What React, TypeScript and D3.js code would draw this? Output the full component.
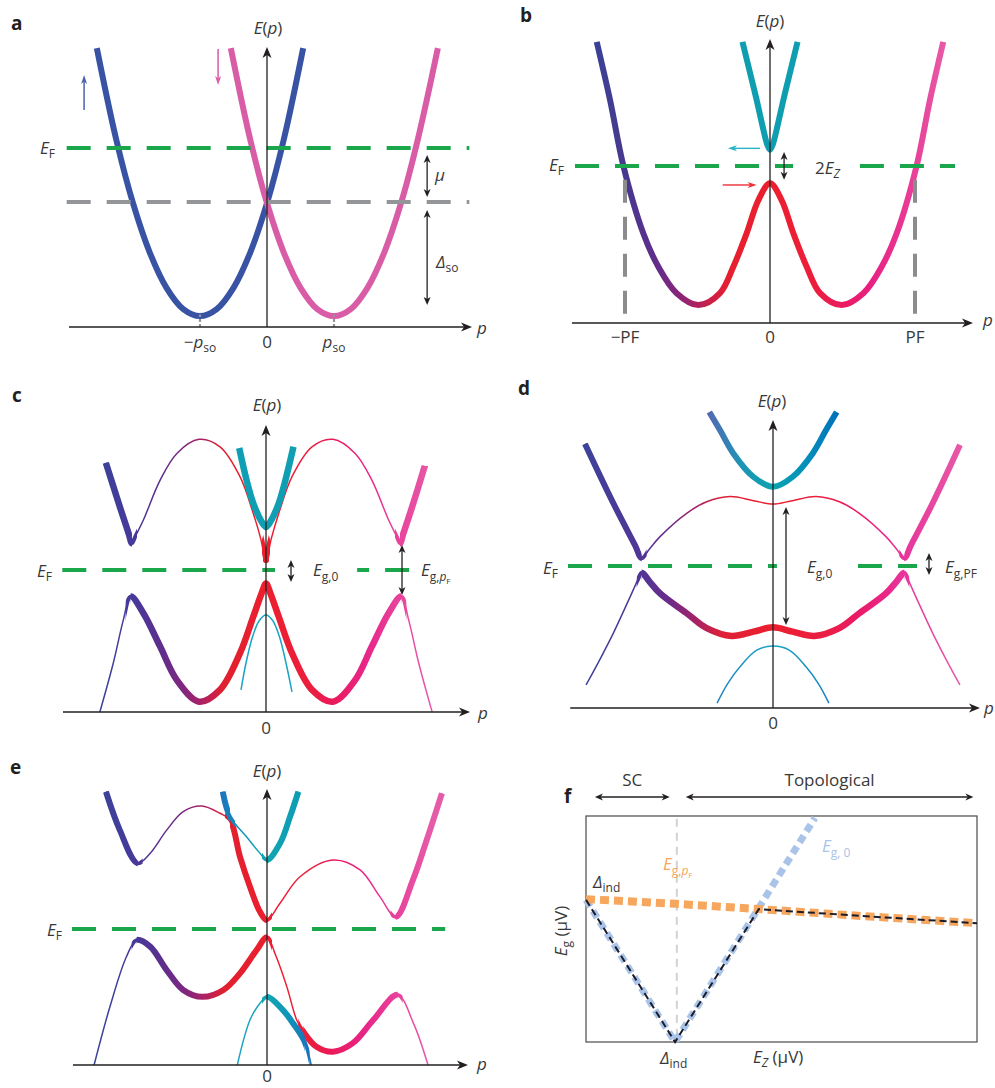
import React from "react";
import * as d3 from "d3";

type Pt = [number, number];

// ============ DATA ============
// Panels a–e: p in units of the characteristic momentum of each panel, E on a 0–10 scale of the axis height.

// ---- a: spin–orbit split bands
const aSpinUp: Pt[] = [[-2.54, 9.96], [-2.25, 6.69], [-2, 4.42], [-1.75, 2.66], [-1.5, 1.4], [-1.25, 0.64], [-1, 0.39], [-0.75, 0.64], [-0.5, 1.4], [-0.25, 2.66], [0, 4.42], [0.25, 6.69], [0.54, 9.96]];
const aSpinDown: Pt[] = [[-0.54, 9.96], [-0.25, 6.69], [0, 4.42], [0.25, 2.66], [0.5, 1.4], [0.75, 0.64], [1, 0.39], [1.25, 0.64], [1.5, 1.4], [1.75, 2.66], [2, 4.42], [2.25, 6.69], [2.55, 9.96]];
const aLevels = [6.39, 4.46]; // E_F, band crossing
const aTicks = [-1, 0, 1];
const aMu: Pt = [6.14, 4.64];
const aDeltaSo: Pt = [4.18, 0.79];

// ---- b: Zeeman field opens gap at p = 0
const bOuter: Pt[] = [[-1.195, 9.9], [-1.103, 7.85], [-1.011, 5.53], [-0.874, 3.16], [-0.77, 1.98], [-0.644, 1.05], [-0.494, 0.63], [-0.345, 1.05], [-0.253, 1.98], [-0.161, 3.16], [-0.08, 4.33], [0, 4.92], [0.08, 4.33], [0.161, 3.16], [0.253, 1.98], [0.345, 1.05], [0.494, 0.63], [0.644, 1.05], [0.77, 1.98], [0.874, 3.16], [1.011, 5.53], [1.103, 7.85], [1.195, 9.9]];
const bInner: Pt[] = [[-0.19, 9.9], [-0.13, 8.65], [-0.092, 7.85], [-0.05, 6.9], [-0.02, 6.3], [0, 6.1], [0.02, 6.3], [0.05, 6.9], [0.092, 7.85], [0.13, 8.65], [0.19, 9.9]];
const bEF = 5.53;
const bEFSegments: Pt[] = [[-1.345, 0.159], [0.62, 1.276]];
const bPF = [-1, 1];
const bTickLabels = ["−PF", "0", "PF"];
const b2Ez: Pt = [6.02, 5.04];

// ---- c: superconducting pairing, weak field
const cUpper: Pt[] = [[-2.39, 8.68], [-2.19, 7.21], [-2.05, 6.22], [-2.0, 5.88], [-1.95, 6.12], [-1.83, 6.69], [-1.58, 8.08], [-1.33, 9.01], [-1.0, 9.5], [-0.687, 9.24], [-0.388, 8.2], [-0.19, 6.92], [-0.08, 6.05], [-0.04, 5.62], [0, 5.3], [0.04, 5.62], [0.08, 6.05], [0.19, 6.92], [0.388, 8.2], [0.687, 9.24], [1.0, 9.5], [1.33, 9.01], [1.58, 8.08], [1.83, 6.69], [1.95, 6.12], [2.0, 5.88], [2.05, 6.22], [2.19, 7.21], [2.37, 8.57]];
const cTealUp: Pt[] = [[-0.4, 9.2], [-0.29, 8.08], [-0.19, 7.27], [-0.065, 6.63], [0, 6.45], [0.065, 6.63], [0.19, 7.27], [0.29, 8.08], [0.41, 9.24]];
const cLower: Pt[] = [[-2.48, 0], [-2.28, 1.7], [-2.13, 3.2], [-2.02, 4.02], [-1.83, 3.44], [-1.58, 2.28], [-1.33, 1.11], [-1.0, 0.36], [-0.687, 0.77], [-0.388, 2.05], [-0.19, 3.32], [-0.065, 4.14], [0, 4.48], [0.065, 4.14], [0.19, 3.32], [0.388, 2.05], [0.687, 0.77], [1.0, 0.36], [1.33, 1.11], [1.58, 2.28], [1.83, 3.44], [2.02, 4.02], [2.13, 3.2], [2.28, 1.7], [2.48, 0]];
const cTealLow: Pt[] = [[-0.373, 0.77], [-0.3, 1.69], [-0.2, 2.63], [-0.1, 3.19], [0, 3.38], [0.1, 3.19], [0.2, 2.63], [0.3, 1.69], [0.388, 0.7]];
const cEF = 4.95;
const cEFSegments: Pt[] = [[-3.04, 0.134], [1.36, 2.15]];
const cGap0: Pt = [5.3, 4.53];
const cGapPF: Pt = [5.82, 4.08];

// ---- d: strong field, topological
const dTealUp: Pt[] = [[-0.49, 10.28], [-0.408, 9.65], [-0.305, 8.84], [-0.152, 8.03], [0, 7.68], [0.152, 8.03], [0.305, 8.84], [0.408, 9.65], [0.49, 10.28]];
const dUpper: Pt[] = [[-1.446, 9.17], [-1.228, 7.11], [-1.06, 5.64], [-1.01, 5.2], [-0.95, 5.52], [-0.869, 5.95], [-0.664, 6.76], [-0.51, 7.16], [-0.331, 7.34], [-0.15, 7.2], [0, 7.08], [0.15, 7.2], [0.331, 7.34], [0.51, 7.16], [0.664, 6.76], [0.869, 5.95], [0.95, 5.52], [1.01, 5.2], [1.06, 5.64], [1.228, 7.11], [1.438, 9.13]];
const dLower: Pt[] = [[-1.438, 0.8], [-1.33, 1.7], [-1.228, 2.6], [-1.1, 3.85], [-1.04, 4.45], [-1.01, 4.7], [-0.95, 4.39], [-0.869, 3.98], [-0.664, 3.29], [-0.51, 2.77], [-0.318, 2.5], [-0.15, 2.65], [0, 2.8], [0.15, 2.65], [0.318, 2.5], [0.51, 2.77], [0.664, 3.29], [0.869, 3.98], [0.95, 4.39], [1.01, 4.7], [1.04, 4.45], [1.1, 3.85], [1.228, 2.6], [1.33, 1.7], [1.438, 0.8]];
const dTealLow: Pt[] = [[-0.43, 0.17], [-0.35, 0.84], [-0.254, 1.43], [-0.125, 2.01], [0, 2.15], [0.125, 2.01], [0.254, 1.43], [0.35, 0.84], [0.43, 0.17]];
const dEF = 4.93;
const dEFSegments: Pt[] = [[-1.577, 0.03], [0.654, 1.108]];
const dGap0: Pt = [6.98, 2.88];
const dGapPF: Pt = [5.38, 4.62];

// ---- e: asymmetric (tilted) case
const eUpper: Pt[] = [[-2.44, 9.9], [-2.23, 8.51], [-1.96, 7.31], [-1.77, 7.67], [-1.52, 8.51], [-1.27, 9.18], [-0.99, 9.38], [-0.712, 9.12], [-0.56, 8.88], [-0.41, 7.55], [-0.258, 6.46], [-0.106, 5.55], [0, 5.25], [0.197, 5.86], [0.5, 6.82], [1.0, 7.43], [1.41, 7.07], [1.71, 6.1], [1.95, 5.37], [2.21, 6.7], [2.42, 8.15], [2.65, 9.84]];
const eTealUp: Pt[] = [[-0.67, 9.9], [-0.56, 9.0], [-0.31, 8.27], [-0.106, 7.67], [0, 7.43], [0.197, 8.03], [0.35, 9.0], [0.475, 9.9]];
const eLower: Pt[] = [[-2.62, 0], [-2.38, 2.11], [-2.13, 3.92], [-1.975, 4.53], [-1.77, 4.29], [-1.52, 3.44], [-1.27, 2.72], [-0.977, 2.47], [-0.66, 2.72], [-0.41, 3.32], [-0.156, 4.17], [0, 4.63], [0.14, 3.92], [0.3, 2.84], [0.45, 1.63], [0.55, 1.21], [0.75, 0.66], [1.0, 0.48], [1.3, 0.79], [1.61, 1.63], [1.98, 2.54], [2.22, 1.51], [2.44, 0]];
const eTealLow: Pt[] = [[-0.45, 0], [-0.258, 1.63], [-0.106, 2.24], [0, 2.47], [0.242, 1.99], [0.394, 1.51], [0.57, 0.85], [0.67, 0]];
const eEF = 4.93;

// ---- f: gaps vs Zeeman energy (E_Z in units of Δ_ind)
const fEg0: Pt[] = [[0, 1.0], [1, 0], [2.57, 1.577]];
const fEgPF: Pt[] = [[0, 1.005], [1.01, 0.972], [1.95, 0.935], [3.08, 0.887], [4.39, 0.836]];
const fEgMin: Pt[] = [[0, 1.0], [1, 0], [1.94, 0.935], [3.08, 0.887], [4.39, 0.836]];
const fDeltaInd = 1.02;
const fRegionNames = ["SC", "Topological"];
const fRegionRanges: Pt[] = [[0.1, 0.94], [1.12, 4.35]];

// ============ STYLE ============
const FONT = "'Open Sans', 'Noto Sans', 'DejaVu Sans', sans-serif";
const TXT = "#383838";
const AXC = "#231f20";
const GREEN = "#1aa64b";
const GREY = "#939598";

const bStops: [number, string][] = [[-1.2, "#3b4196"], [-1.0, "#47398f"], [-0.8, "#5e2e8c"], [-0.62, "#8a2478"], [-0.45, "#c02050"], [-0.3, "#e51f30"], [0, "#ec1f2e"], [0.3, "#ec1e3a"], [0.5, "#ea1a62"], [0.7, "#e92082"], [1.0, "#e8409a"], [1.2, "#e75aa6"]];
const cStops: [number, string][] = [[-2.5, "#3b4399"], [-2.0, "#46399a"], [-1.6, "#5c2f8d"], [-1.25, "#7e2781"], [-0.95, "#ad2164"], [-0.65, "#e0202f"], [0, "#ec1f2e"], [0.65, "#ec1e3c"], [1.0, "#ea1a5c"], [1.5, "#e8268a"], [2.0, "#e8449d"], [2.5, "#e65ba7"]];
const dStops: [number, string][] = [[-1.45, "#3e4399"], [-1.0, "#523596"], [-0.8, "#6a2c8a"], [-0.6, "#a4226a"], [-0.4, "#dd2036"], [0, "#ec1f2e"], [0.4, "#ea1e44"], [0.65, "#ea1a66"], [0.9, "#e92a8e"], [1.0, "#e8349a"], [1.45, "#e65aa7"]];
const dTealStops: [number, string][] = [[-0.5, "#5468b2"], [-0.25, "#1f93b6"], [0, "#08a4b0"], [0.25, "#0490bb"], [0.5, "#0271b9"]];
const dTealLowStops: [number, string][] = [[-0.45, "#2582c6"], [0, "#16a6c0"], [0.45, "#1a7fc3"]];
const eTealUpStops: [number, string][] = [[-0.7, "#1b74bb"], [-0.5, "#1788bb"], [-0.2, "#12a0b5"], [0, "#10a5b1"], [0.5, "#0f9cb5"]];
const eTealLowStops: [number, string][] = [[-0.45, "#20a4c4"], [0, "#12a7b1"], [0.3, "#1096b8"], [0.6, "#1a74bb"], [0.7, "#1a74bb"]];

// ============ HELPERS ============
function mk(x0: number, W: number, axisY: number, H: number) {
  return {
    sx: d3.scaleLinear().domain([-1, 1]).range([x0 - W, x0 + W]),
    sy: d3.scaleLinear().domain([0, 10]).range([axisY, axisY - H]),
  };
}

function gen(sx: any, sy: any, curve: any = d3.curveCatmullRom.alpha(0.5)) {
  return d3.line<Pt>().x((d) => sx(d[0])).y((d) => sy(d[1])).curve(curve);
}

function headPath(x: number, y: number, ang: number, len: number, wid: number) {
  const ux = Math.cos(ang), uy = Math.sin(ang);
  const px = -uy, py = ux;
  const bx = x - ux * len, by = y - uy * len;
  const nx = x - ux * len * 0.72, ny = y - uy * len * 0.72;
  return `M${x},${y}L${bx + (px * wid) / 2},${by + (py * wid) / 2}L${nx},${ny}L${bx - (px * wid) / 2},${by - (py * wid) / 2}Z`;
}

function Arrow({ x1, y1, x2, y2, color, w = 1.4, len = 9, wid = 8, both = false }: any) {
  const ang = Math.atan2(y2 - y1, x2 - x1);
  const sh = len * 0.7;
  const ex = x2 - Math.cos(ang) * sh, ey = y2 - Math.sin(ang) * sh;
  const bx = both ? x1 + Math.cos(ang) * sh : x1, by = both ? y1 + Math.sin(ang) * sh : y1;
  return (
    <g>
      <line x1={bx} y1={by} x2={ex} y2={ey} stroke={color} strokeWidth={w} />
      <path d={headPath(x2, y2, ang, len, wid)} fill={color} />
      {both && <path d={headPath(x1, y1, ang + Math.PI, len, wid)} fill={color} />}
    </g>
  );
}

function Axes({ sx, sy, pMin, pMax }: any) {
  const x0 = sx(0), y0 = sy(0);
  return (
    <g>
      <Arrow x1={sx(pMin)} y1={y0} x2={sx(pMax)} y2={y0} color={AXC} w={1.3} len={11} wid={9} />
      <Arrow x1={x0} y1={y0} x2={x0} y2={sy(10)} color={AXC} w={1.3} len={11} wid={9} />
    </g>
  );
}

function Grad({ id, sx, stops }: any) {
  const xs = stops.map((s: any) => sx(s[0]));
  const x1 = xs[0], x2 = xs[xs.length - 1];
  return (
    <linearGradient id={id} gradientUnits="userSpaceOnUse" x1={x1} x2={x2} y1={0} y2={0}>
      {stops.map((s: any, i: number) => (
        <stop key={i} offset={(xs[i] - x1) / (x2 - x1)} stopColor={s[1]} />
      ))}
    </linearGradient>
  );
}

// thick: "all" or list of [p0, p1, taperPx?] ranges where the band is drawn heavy
function Band({ id, pts, sx, sy, stroke, thick, top, bottom, thickW = 6, thinW = 1.5 }: any) {
  const d = gen(sx, sy)(pts) as string;
  if (thick === "all") return <path d={d} fill="none" stroke={stroke} strokeWidth={thickW} />;
  const midW = (thickW + thinW) / 2;
  return (
    <g>
      <defs>
        {thick.map((r: number[], i: number) => {
          const tp = r[2] === undefined ? 5 : r[2];
          return (
            <React.Fragment key={i}>
              <clipPath id={`${id}-c${i}`}>
                <rect x={sx(r[0])} y={top} width={sx(r[1]) - sx(r[0])} height={bottom - top} />
              </clipPath>
              <clipPath id={`${id}-t${i}`}>
                <rect x={sx(r[0]) - tp} y={top} width={sx(r[1]) - sx(r[0]) + 2 * tp} height={bottom - top} />
              </clipPath>
            </React.Fragment>
          );
        })}
      </defs>
      <path d={d} fill="none" stroke={stroke} strokeWidth={thinW} />
      {thick.map((r: number[], i: number) => (
        <g key={i}>
          <path d={d} fill="none" stroke={stroke} strokeWidth={midW} clipPath={`url(#${id}-t${i})`} />
          <path d={d} fill="none" stroke={stroke} strokeWidth={thickW} clipPath={`url(#${id}-c${i})`} />
        </g>
      ))}
    </g>
  );
}

function HDash({ sx, sy, p0, p1, E, color, w = 4, dash = "24 16", offset = 0 }: any) {
  return <line x1={sx(p0)} x2={sx(p1)} y1={sy(E)} y2={sy(E)} stroke={color} strokeWidth={w} strokeDasharray={dash} strokeDashoffset={offset} />;
}

const T = ({ children, ...rest }: any) => (
  <text fontFamily={FONT} fontSize={17} fill={TXT} {...rest}>
    {children}
  </text>
);

const Ep = ({ x, y }: any) => (
  <T x={x} y={y} textAnchor="middle">
    <tspan fontStyle="italic">E</tspan>(<tspan fontStyle="italic">p</tspan>)
  </T>
);
const EF = ({ x, y }: any) => (
  <T x={x} y={y}>
    <tspan fontStyle="italic">E</tspan>
    <tspan fontSize={12} dy={4}>F</tspan>
  </T>
);
const Letter = ({ x, y, c }: any) => (
  <text x={x} y={y} fontFamily={FONT} fontSize={19} fontWeight="bold" fill="#231f20">
    {c}
  </text>
);

// ============ APP ============
export default function App() {
  const A = mk(267, 67, 327, 280);
  const B = mk(770, 145, 323, 284);
  const C = mk(266, 67, 712, 287);
  const D = mk(773, 130, 708, 288);
  const E = mk(267, 66, 1065, 276);
  const fx = d3.scaleLinear().domain([0, 4.39]).range([586, 977]);
  const fy = d3.scaleLinear().domain([0, 1.59]).range([1042, 816]);
  const fLine = gen(fx, fy, d3.curveLinear);

  return (
    <div style={{ position: "absolute", left: 0, top: 0 }}>
      <svg width={995} height={1088} viewBox="0 0 995 1088" style={{ display: "block", background: "#fff" }}>
        <defs>
          <Grad id="gb" sx={B.sx} stops={bStops} />
          <Grad id="gc" sx={C.sx} stops={cStops} />
          <Grad id="gd" sx={D.sx} stops={dStops} />
          <Grad id="gdt" sx={D.sx} stops={dTealStops} />
          <Grad id="gdtl" sx={D.sx} stops={dTealLowStops} />
          <Grad id="ge" sx={E.sx} stops={cStops} />
          <Grad id="get" sx={E.sx} stops={eTealUpStops} />
          <Grad id="getl" sx={E.sx} stops={eTealLowStops} />
        </defs>

        {/* ================= a ================= */}
        <g>
          <Letter x={11} y={30} c="a" />
          <Band id="a1" pts={aSpinUp} sx={A.sx} sy={A.sy} stroke="#3953a4" thick="all" />
          <Band id="a2" pts={aSpinDown} sx={A.sx} sy={A.sy} stroke="#d95ca6" thick="all" />
          <HDash sx={A.sx} sy={A.sy} p0={-2.99} p1={3.02} E={aLevels[0]} color={GREEN} />
          <HDash sx={A.sx} sy={A.sy} p0={-2.99} p1={3.02} E={aLevels[1]} color={GREY} />
          {[aTicks[0], aTicks[2]].map((t, i) => (
            <line key={i} x1={A.sx(t)} x2={A.sx(t)} y1={A.sy(0)} y2={A.sy(0.45)} stroke={GREY} strokeWidth={2.2} strokeDasharray="3 2" />
          ))}
          <Axes sx={A.sx} sy={A.sy} pMin={-2.955} pMax={3.06} />
          <Arrow x1={A.sx(-2.73)} y1={A.sy(7.75)} x2={A.sx(-2.73)} y2={A.sy(9.0)} color="#4a62ad" w={1.5} len={9} wid={6} />
          <Arrow x1={A.sx(-0.73)} y1={A.sy(9.93)} x2={A.sx(-0.73)} y2={A.sy(8.64)} color="#d95ca6" w={1.5} len={9} wid={6} />
          <Arrow x1={A.sx(2.39)} y1={A.sy(aMu[0])} x2={A.sx(2.39)} y2={A.sy(aMu[1])} color={AXC} w={1.3} len={8} wid={7} both />
          <Arrow x1={A.sx(2.39)} y1={A.sy(aDeltaSo[0])} x2={A.sx(2.39)} y2={A.sy(aDeltaSo[1])} color={AXC} w={1.3} len={8} wid={7} both />
          <Ep x={268} y={34} />
          <T x={477} y={334} fontStyle="italic">p</T>
          <EF x={40} y={154} />
          <T x={435} y={181} fontStyle="italic">μ</T>
          <T x={436} y={268}>
            <tspan fontStyle="italic">Δ</tspan>
            <tspan fontSize={12} dy={4}>so</tspan>
          </T>
          <T x={A.sx(aTicks[0])} y={348} textAnchor="middle">
            −<tspan fontStyle="italic">p</tspan>
            <tspan fontSize={12} dy={4}>so</tspan>
          </T>
          <T x={A.sx(aTicks[1])} y={348} textAnchor="middle">0</T>
          <T x={A.sx(aTicks[2])} y={348} textAnchor="middle">
            <tspan fontStyle="italic">p</tspan>
            <tspan fontSize={12} dy={4}>so</tspan>
          </T>
        </g>

        {/* ================= b ================= */}
        <g>
          <Letter x={520} y={22} c="b" />
          <Band id="b1" pts={bOuter} sx={B.sx} sy={B.sy} stroke="url(#gb)" thick="all" />
          <Band id="b2" pts={bInner} sx={B.sx} sy={B.sy} stroke="#0f9db0" thick="all" />
          {bEFSegments.map((s, i) => (
            <HDash key={i} sx={B.sx} sy={B.sy} p0={s[0]} p1={s[1]} E={bEF} color={GREEN} />
          ))}
          {bPF.map((p, i) => (
            <line key={i} x1={B.sx(p)} x2={B.sx(p)} y1={B.sy(5.04)} y2={B.sy(0)} stroke="#8c8c8c" strokeWidth={4} strokeDasharray="23 14" />
          ))}
          <Axes sx={B.sx} sy={B.sy} pMin={-1.366} pMax={1.4} />
          <Arrow x1={B.sx(-0.069)} y1={B.sy(6.15)} x2={B.sx(-0.29)} y2={B.sy(6.15)} color="#2ab3c4" w={1.4} len={9} wid={6} />
          <Arrow x1={B.sx(-0.326)} y1={B.sy(4.86)} x2={B.sx(-0.092)} y2={B.sy(4.86)} color="#ec3237" w={1.4} len={9} wid={6} />
          <Arrow x1={B.sx(0.097)} y1={B.sy(b2Ez[0])} x2={B.sx(0.097)} y2={B.sy(b2Ez[1])} color={AXC} w={1.3} len={8} wid={7} both />
          <Ep x={770} y={27} />
          <T x={983} y={326} fontStyle="italic">p</T>
          <EF x={549} y={171} />
          <T x={815} y={174}>
            2<tspan fontStyle="italic">E</tspan>
            <tspan fontSize={12} dy={4} fontStyle="italic">Z</tspan>
          </T>
          {[-1, 0, 1].map((p, i) => (
            <T key={i} x={B.sx(p)} y={343} textAnchor="middle">{bTickLabels[i]}</T>
          ))}
        </g>

        {/* ================= c ================= */}
        <g>
          <Letter x={12} y={402} c="c" />
          <Band id="c1" pts={cUpper} sx={C.sx} sy={C.sy} stroke="url(#gc)" thick={[[-3, -2.0], [-0.045, 0.045, 1], [2.0, 3]]} top={420} bottom={715} thickW={6.5} />
          <Band id="c2" pts={cTealUp} sx={C.sx} sy={C.sy} stroke="#109fb2" thick="all" thickW={6.5} />
          <Band id="c3" pts={cLower} sx={C.sx} sy={C.sy} stroke="url(#gc)" thick={[[-2.02, 2.02]]} top={420} bottom={715} thickW={6.5} />
          <Band id="c4" pts={cTealLow} sx={C.sx} sy={C.sy} stroke="#1aa3c4" thick={[]} top={420} bottom={715} />
          {cEFSegments.map((s, i) => (
            <HDash key={i} sx={C.sx} sy={C.sy} p0={s[0]} p1={s[1]} E={cEF} color={GREEN} offset={i === 1 ? 12 : 0} />
          ))}
          <Axes sx={C.sx} sy={C.sy} pMin={-3.03} pMax={3.045} />
          <Arrow x1={C.sx(0.373)} y1={C.sy(cGap0[0])} x2={C.sx(0.373)} y2={C.sy(cGap0[1])} color={AXC} w={1.3} len={8} wid={7} both />
          <Arrow x1={C.sx(2.03)} y1={C.sy(cGapPF[0])} x2={C.sx(2.03)} y2={C.sy(cGapPF[1])} color={AXC} w={1.3} len={8} wid={7} both />
          <Ep x={267} y={411} />
          <T x={478} y={719} fontStyle="italic">p</T>
          <T x={266} y={734} textAnchor="middle">0</T>
          <EF x={37} y={577} />
          <T x={313} y={576}>
            <tspan fontStyle="italic">E</tspan>
            <tspan fontSize={12} dy={5}>g,0</tspan>
          </T>
          <T x={421} y={576}>
            <tspan fontStyle="italic">E</tspan>
            <tspan fontSize={12} dy={5}>g,</tspan>
            <tspan fontSize={12} fontStyle="italic">p</tspan>
            <tspan fontSize={8} dy={3}>F</tspan>
          </T>
        </g>

        {/* ================= d ================= */}
        <g>
          <Letter x={518} y={395} c="d" />
          <Band id="d1" pts={dTealUp} sx={D.sx} sy={D.sy} stroke="url(#gdt)" thick="all" />
          <Band id="d2" pts={dUpper} sx={D.sx} sy={D.sy} stroke="url(#gd)" thick={[[-2, -1.01], [1.01, 2]]} top={410} bottom={712} />
          <Band id="d3" pts={dLower} sx={D.sx} sy={D.sy} stroke="url(#gd)" thick={[[-1.01, 1.01]]} top={410} bottom={712} thickW={6.5} />
          <Band id="d4" pts={dTealLow} sx={D.sx} sy={D.sy} stroke="url(#gdtl)" thick={[]} top={410} bottom={712} />
          {dEFSegments.map((s, i) => (
            <HDash key={i} sx={D.sx} sy={D.sy} p0={s[0]} p1={s[1]} E={dEF} color={GREEN} />
          ))}
          <Axes sx={D.sx} sy={D.sy} pMin={-1.56} pMax={1.592} />
          <Arrow x1={D.sx(0.1)} y1={D.sy(dGap0[0])} x2={D.sx(0.1)} y2={D.sy(dGap0[1])} color={AXC} w={1.3} len={8} wid={7} both />
          <Arrow x1={D.sx(1.2)} y1={D.sy(dGapPF[0])} x2={D.sx(1.2)} y2={D.sy(dGapPF[1])} color={AXC} w={1.3} len={8} wid={7} both />
          <Ep x={772} y={407} />
          <T x={984} y={714} fontStyle="italic">p</T>
          <T x={773} y={729} textAnchor="middle">0</T>
          <EF x={543} y={574} />
          <T x={807} y={573}>
            <tspan fontStyle="italic">E</tspan>
            <tspan fontSize={12} dy={5}>g,0</tspan>
          </T>
          <T x={945} y={573}>
            <tspan fontStyle="italic">E</tspan>
            <tspan fontSize={12} dy={5}>g,PF</tspan>
          </T>
        </g>

        {/* ================= e ================= */}
        <g>
          <Letter x={10} y={774} c="e" />
          <Band id="e1" pts={eUpper} sx={E.sx} sy={E.sy} stroke="url(#ge)" thick={[[-3, -1.96], [-0.56, 0], [1.95, 3]]} top={785} bottom={1068} />
          <Band id="e2" pts={eTealUp} sx={E.sx} sy={E.sy} stroke="url(#get)" thick={[[-1, -0.56], [0, 1]]} top={785} bottom={1068} />
          <Band id="e3" pts={eLower} sx={E.sx} sy={E.sy} stroke="url(#ge)" thick={[[-1.975, 0], [0.55, 1.98]]} top={785} bottom={1068} />
          <Band id="e4" pts={eTealLow} sx={E.sx} sy={E.sy} stroke="url(#getl)" thick={[[0, 0.57]]} top={785} bottom={1068} />
          <HDash sx={E.sx} sy={E.sy} p0={-2.955} p1={2.7} E={eEF} color={GREEN} />
          <Axes sx={E.sx} sy={E.sy} pMin={-2.94} pMax={3.045} />
          <Ep x={267} y={777} />
          <T x={477} y={1070} fontStyle="italic">p</T>
          <T x={267} y={1082} textAnchor="middle">0</T>
          <EF x={47} y={936} />
        </g>

        {/* ================= f ================= */}
        <g>
          <Letter x={564} y={803} c="f" />
          <rect x={fx(0)} y={fy(1.59)} width={fx(4.39) - fx(0)} height={fy(0) - fy(1.59)} fill="none" stroke="#4a4a4a" strokeWidth={1.2} />
          <line x1={fx(fDeltaInd)} x2={fx(fDeltaInd)} y1={fy(1.57)} y2={fy(0.01)} stroke="#d2d2d2" strokeWidth={2} strokeDasharray="8 6" />
          <path d={fLine(fEg0) as string} fill="none" stroke="#a9c4e8" strokeWidth={7} strokeDasharray="8 5" />
          <path d={fLine(fEgPF) as string} fill="none" stroke="#f6a65d" strokeWidth={8} strokeDasharray="9 5" />
          <path d={fLine(fEgMin) as string} fill="none" stroke="#1c1c2a" strokeWidth={2} strokeDasharray="7 4" />
          {fRegionRanges.map((r, i) => (
            <g key={i}>
              <Arrow x1={fx(r[0])} y1={797} x2={fx(r[1])} y2={797} color={AXC} w={1.3} len={8} wid={7} both />
              <T x={(fx(r[0]) + fx(r[1])) / 2} y={786} textAnchor="middle">{fRegionNames[i]}</T>
            </g>
          ))}
          <T x={593} y={888}>
            <tspan fontStyle="italic">Δ</tspan>
            <tspan fontSize={12} dy={4}>ind</tspan>
          </T>
          <T x={660} y={1064}>
            <tspan fontStyle="italic">Δ</tspan>
            <tspan fontSize={12} dy={4}>ind</tspan>
          </T>
          <T x={753} y={1063}>
            <tspan fontStyle="italic">E</tspan>
            <tspan fontSize={12} dy={4} fontStyle="italic">Z</tspan>
            <tspan dy={-4}> (μV)</tspan>
          </T>
          <T transform="translate(567,931) rotate(-90)" textAnchor="middle">
            <tspan fontStyle="italic">E</tspan>
            <tspan fontSize={12} dy={4}>g</tspan>
            <tspan dy={-4}> (μV)</tspan>
          </T>
          <T x={822} y={852} fill="#a9c4e8">
            <tspan fontStyle="italic">E</tspan>
            <tspan fontSize={12} dy={5}>g, 0</tspan>
          </T>
          <T x={663} y={870} fill="#f6a65d">
            <tspan fontStyle="italic">E</tspan>
            <tspan fontSize={12} dy={5}>g,</tspan>
            <tspan fontSize={12} fontStyle="italic">p</tspan>
            <tspan fontSize={8} dy={3}>F</tspan>
          </T>
        </g>
      </svg>
    </div>
  );
}
